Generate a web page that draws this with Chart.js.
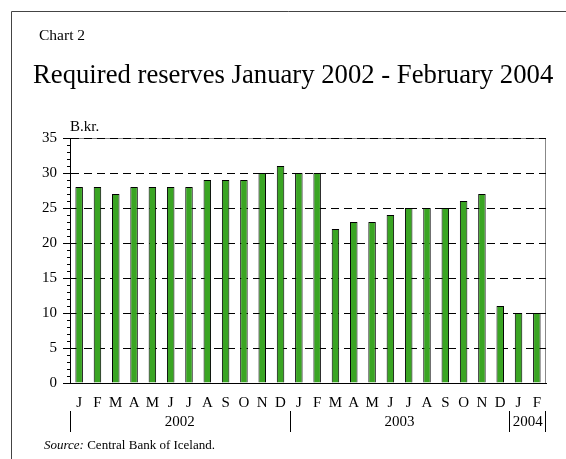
<!DOCTYPE html>
<html>
<head>
<meta charset="utf-8">
<script src="https://cdn.jsdelivr.net/npm/chart.js@4"></script>
<style>
  html, body { margin: 0; padding: 0; background: #fff; }
  #wrap { width: 566px; height: 459px; }
</style>
</head>
<body>
<div id="wrap"><canvas id="chart" width="566" height="459"></canvas></div>
<script>
'use strict';

let months = ['J', 'F', 'M', 'A', 'M', 'J', 'J', 'A', 'S', 'O', 'N', 'D',
              'J', 'F', 'M', 'A', 'M', 'J', 'J', 'A', 'S', 'O', 'N', 'D',
              'J', 'F'];
let reserves = [28, 28, 27, 28, 28, 28, 28, 29, 29, 29, 30, 31,
                30, 30, 22, 23, 23, 24, 25, 25, 25, 26, 27, 11,
                10, 10];
let years = ['2002', '2003', '2004'];
let monthsPerYear = [12, 12, 2];
let yTicks = [0, 5, 10, 15, 20, 25, 30, 35];

const serif = '"Liberation Serif", "Times New Roman", serif';

// frame, titles, year row, minor ticks
const decor = {
    id: 'decor',
    beforeDraw(chart) {
        const ctx = chart.ctx;
        const a = chart.chartArea;
        ctx.save();
        ctx.fillStyle = '#fff';
        ctx.fillRect(0, 0, chart.width, chart.height);
        ctx.strokeStyle = '#444';
        ctx.lineWidth = 1;
        ctx.beginPath();
        ctx.moveTo(11.5, chart.height);
        ctx.lineTo(11.5, 11.5);
        ctx.lineTo(chart.width, 11.5);
        ctx.stroke();
        // plot box top/right
        ctx.strokeStyle = '#888';
        ctx.beginPath();
        ctx.moveTo(a.left, a.top + 0.5);
        ctx.lineTo(a.right - 0.5, a.top + 0.5);
        ctx.lineTo(a.right - 0.5, a.bottom);
        ctx.stroke();
        ctx.restore();
    },
    afterDraw(chart) {
        const ctx = chart.ctx;
        const x = chart.scales.x;
        const y = chart.scales.y;
        ctx.save();
        ctx.fillStyle = '#000';
        ctx.textBaseline = 'alphabetic';
        ctx.textAlign = 'left';
        ctx.font = '15.5px ' + serif;
        ctx.fillText('Chart 2', 39, 40);
        ctx.font = '26.7px ' + serif;
        ctx.fillText('Required reserves January 2002 - February 2004', 33, 83);
        ctx.font = '15px ' + serif;
        ctx.textBaseline = 'middle';
        ctx.fillText('B.kr.', 70, 127);

        // minor ticks on the value axis
        ctx.strokeStyle = '#000';
        ctx.lineWidth = 1;
        ctx.beginPath();
        for (let v = y.min; v <= y.max; v++) {
            if (v % 5 === 0) continue;
            const py = Math.round(y.getPixelForValue(v)) + 0.5;
            ctx.moveTo(y.right - 3, py);
            ctx.lineTo(y.right, py);
        }
        ctx.stroke();

        // year row with separators
        const half = (x.getPixelForValue(1) - x.getPixelForValue(0)) / 2;
        let start = 0;
        ctx.textAlign = 'center';
        ctx.font = '15px ' + serif;
        ctx.beginPath();
        for (let i = 0; i < years.length; i++) {
            const end = start + monthsPerYear[i];
            const x0 = x.getPixelForValue(start) - half;
            const x1 = x.getPixelForValue(end - 1) + half;
            ctx.fillText(years[i], (x0 + x1) / 2, 422);
            ctx.moveTo(Math.round(x0) + 0.5, 411);
            ctx.lineTo(Math.round(x0) + 0.5, 432);
            if (i === years.length - 1) {
                ctx.moveTo(Math.round(x1) - 0.5, 411);
                ctx.lineTo(Math.round(x1) - 0.5, 432);
            }
            start = end;
        }
        ctx.stroke();

        // source line
        ctx.textAlign = 'left';
        ctx.font = 'italic 13px ' + serif;
        ctx.fillText('Source:', 44, 446);
        const w = ctx.measureText('Source:').width;
        ctx.font = '13px ' + serif;
        ctx.fillText(' Central Bank of Iceland.', 44 + w, 446);
        ctx.restore();
    }
};

function renderChart() {
    new Chart(document.getElementById('chart'), {
        type: 'bar',
        data: {
            labels: months,
            datasets: [{
                data: reserves,
                backgroundColor: '#3aa523',
                borderColor: '#000',
                borderWidth: 1,
                barPercentage: 0.41,
                categoryPercentage: 1
            }]
        },
        options: {
            responsive: false,
            animation: false,
            events: [],
            layout: { padding: { top: 138, right: 20, bottom: 0, left: 0 } },
            plugins: {
                legend: { display: false },
                tooltip: { enabled: false }
            },
            scales: {
                x: {
                    grid: { display: false, drawTicks: false },
                    border: { display: true, color: '#000', width: 1 },
                    ticks: {
                        color: '#000',
                        font: { family: serif, size: 15 },
                        padding: 11,
                        autoSkip: false,
                        maxRotation: 0
                    },
                    afterFit(scale) { scale.height = 76; }
                },
                y: {
                    min: 0,
                    max: 35,
                    afterBuildTicks(scale) {
                        scale.ticks = yTicks.map(v => ({ value: v }));
                    },
                    grid: {
                        color: ctx => (ctx.tick && ctx.tick.value === 0) ? 'rgba(0,0,0,0)' : '#000',
                        lineWidth: 1,
                        tickColor: '#000',
                        tickLength: 7,
                        tickBorderDash: []
                    },
                    border: { display: true, color: '#000', width: 1, dash: [8, 5] },
                    ticks: {
                        color: '#000',
                        font: { family: serif, size: 15 },
                        padding: 6
                    },
                    afterFit(scale) { scale.width = 70; }
                }
            }
        },
        plugins: [decor]
    });
}

renderChart();
</script>
</body>
</html>
